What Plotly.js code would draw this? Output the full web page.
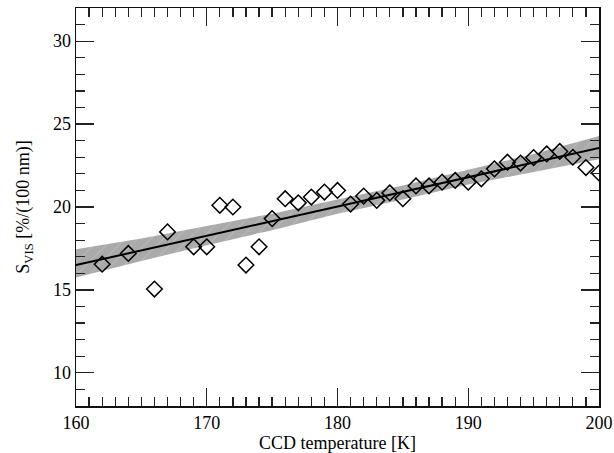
<!DOCTYPE html>
<html>
<head>
<meta charset="utf-8">
<script src="https://cdn.plot.ly/plotly-3.0.1.min.js"></script>
<style>html,body{margin:0;padding:0;background:#fff;}#chart{width:614px;height:453px;}</style>
</head>
<body>
<div id="chart"></div>
<script>
// Measured points: CCD temperature [K] and S_VIS [%/(100 nm)]
var tempK = [162, 164, 166, 167, 169, 170, 171, 172, 173, 174, 175, 176, 177, 178, 179, 180,
             181, 182, 183, 184, 185, 186, 187, 188, 189, 190, 191, 192, 193, 194, 195, 196,
             197, 198, 199, 200];
var sVis  = [16.55, 17.2, 15.05, 18.5, 17.6, 17.6, 20.1, 20.0, 16.5, 17.6, 19.3, 20.5, 20.25, 20.6, 20.9, 21.0,
             20.18, 20.66, 20.4, 20.85, 20.5, 21.27, 21.27, 21.5, 21.6, 21.5, 21.7, 22.3, 22.7, 22.65, 22.98, 23.2,
             23.35, 23.0, 22.38, 22.05];
// Linear fit and its confidence band
var fitX = [160, 200];
var fitY = [16.5, 23.56];
var bandX = [160, 165, 170, 175, 180, 185, 190, 195, 200];
var bandUpper = [17.45, 18.1, 18.85, 19.6, 20.45, 21.3, 22.25, 23.2, 24.28];
var bandLower = [15.75, 16.75, 17.7, 18.6, 19.6, 20.45, 21.35, 22.1, 22.88];

var fontFam = '"Liberation Serif", "Times New Roman", serif';

var traces = [
  {x: bandX, y: bandLower, mode: 'lines', line: {width: 0, color: 'rgba(0,0,0,0)'},
   hoverinfo: 'skip', showlegend: false},
  {x: bandX, y: bandUpper, mode: 'lines', line: {width: 0, color: 'rgba(0,0,0,0)'},
   fill: 'tonexty', fillcolor: '#aaaaaa',
   fillpattern: {shape: '/', bgcolor: '#aaaaaa', fgcolor: '#c8c8c8', size: 9, solidity: 0.08},
   hoverinfo: 'skip', showlegend: false},
  {x: fitX, y: fitY, mode: 'lines', line: {color: '#000', width: 2}, showlegend: false},
  {x: tempK, y: sVis, mode: 'markers', showlegend: false,
   marker: {symbol: 'diamond-open', size: 12, color: '#000', line: {color: '#000', width: 1.5}}}
];

var axisCommon = {
  showgrid: false, zeroline: false, showline: true, linecolor: '#111', linewidth: 1.5,
  mirror: 'ticks', ticks: 'inside', ticklen: 18, tickwidth: 1.3, tickcolor: '#222',
  tickfont: {family: fontFam, size: 18, color: '#000'},
  minor: {ticks: 'inside', ticklen: 9, tickwidth: 1.3, tickcolor: '#222', dtick: 1}
};

var layout = {
  width: 614, height: 453,
  margin: {l: 76, r: 15, t: 8, b: 47},
  paper_bgcolor: '#fff', plot_bgcolor: '#fff',
  showlegend: false,
  xaxis: Object.assign({}, axisCommon, {
    range: [160, 200], dtick: 10, tick0: 160,
    title: {text: 'CCD temperature [K]', font: {family: fontFam, size: 18, color: '#000'}, standoff: 2}
  }),
  yaxis: Object.assign({}, axisCommon, {
    range: [8, 32], dtick: 5, tick0: 10,
    title: {text: 'S<sub>VIS</sub> [%/(100 nm)]', font: {family: fontFam, size: 18, color: '#000'}, standoff: 18}
  })
};

Plotly.newPlot('chart', traces, layout, {staticPlot: true, displayModeBar: false});
</script>
</body>
</html>
